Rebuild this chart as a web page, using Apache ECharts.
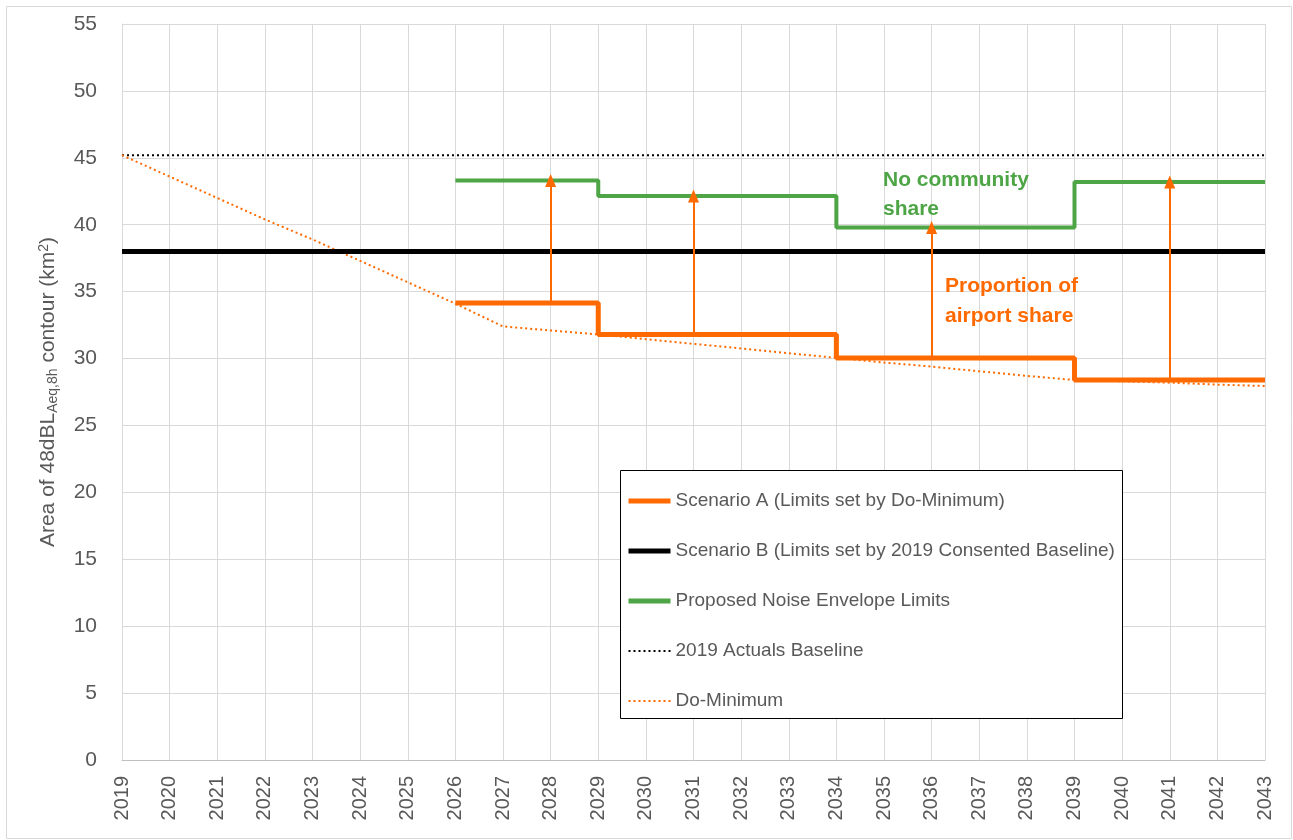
<!DOCTYPE html>
<html>
<head>
<meta charset="utf-8">
<script src="https://cdn.jsdelivr.net/npm/echarts@6/dist/echarts.min.js"></script>
<style>
  html, body { margin: 0; padding: 0; background: #fff; }
  #chart { width: 1293px; height: 840px; }
</style>
</head>
<body>
<div id="chart"></div>
<script>
// 年份
var years = ['2019','2020','2021','2022','2023','2024','2025','2026','2027','2028','2029','2030',
  '2031','2032','2033','2034','2035','2036','2037','2038','2039','2040','2041','2042','2043'];

// Scenario A (Do-Minimum 限值)
var scenarioA = [null,null,null,null,null,null,null,34.15,34.15,34.15,31.8,31.8,
  31.8,31.8,31.8,30.05,30.05,30.05,30.05,30.05,28.4,28.4,28.4,28.4,28.4];
// Scenario B (2019 Consented Baseline)
var scenarioB = [38,38,38,38,38,38,38,38,38,38,38,38,38,38,38,38,38,38,38,38,38,38,38,38,38];
// 建议噪声限值
var envelope = [null,null,null,null,null,null,null,43.3,43.3,43.3,42.15,42.15,
  42.15,42.15,42.15,39.8,39.8,39.8,39.8,39.8,43.2,43.2,43.2,43.2,43.2];
// 2019 实际基线
var actuals = [45.2,45.2,45.2,45.2,45.2,45.2,45.2,45.2,45.2,45.2,45.2,45.2,45.2,45.2,45.2,
  45.2,45.2,45.2,45.2,45.2,45.2,45.2,45.2,45.2,45.2];
// Do-Minimum
var doMinimum = [45.2,43.6,42.0,40.4,38.9,37.3,35.7,34.1,32.4,32.1,31.8,31.45,
  31.1,30.75,30.4,30.05,29.7,29.4,29.05,28.7,28.4,28.3,28.2,28.05,27.95];

// 箭头 [年份, 起点, 终点]
var arrows = [['2028',34.15,43.3],['2031',31.8,42.15],['2036',30.05,39.8],['2041',28.4,43.2]];

var yTicks = { min: 0, max: 55, interval: 5 };

var orange = '#ff6a00';
var green = '#4ea546';
var font = 'Liberation Sans';

var chart = echarts.init(document.getElementById('chart'));

var option = {
  animation: false,
  textStyle: { fontFamily: font },
  grid: { left: 122, right: 28, top: 24, bottom: 80 },
  legend: {
    orient: 'vertical',
    left: 621,
    top: 484,
    z: 10,
    itemWidth: 42,
    itemHeight: 14,
    itemGap: 26,
    itemStyle: { opacity: 0 },
    textStyle: { fontSize: 19, color: '#595959', lineHeight: 24, fontFamily: font },
    data: [
      { name: 'Scenario A (Limits set by Do-Minimum)', lineStyle: { width: 5 } },
      { name: 'Scenario B (Limits set by 2019 Consented Baseline)', lineStyle: { width: 5 } },
      { name: 'Proposed Noise Envelope Limits', lineStyle: { width: 5 } },
      { name: '2019 Actuals Baseline', lineStyle: { width: 2 } },
      { name: 'Do-Minimum', lineStyle: { width: 2 } }
    ]
  },
  xAxis: {
    type: 'category',
    data: years,
    boundaryGap: false,
    axisLine: { lineStyle: { color: '#bfbfbf' } },
    axisTick: { show: false },
    axisLabel: { rotate: 90, fontSize: 20, color: '#595959', margin: 16, interval: 0 },
    splitLine: { show: true, lineStyle: { color: '#d9d9d9', width: 1 } }
  },
  yAxis: {
    type: 'value',
    min: yTicks.min,
    max: yTicks.max,
    interval: yTicks.interval,
    axisLine: { show: true, lineStyle: { color: '#d9d9d9' } },
    axisLabel: { fontSize: 21, color: '#595959', margin: 25 },
    splitLine: { lineStyle: { color: '#d9d9d9', width: 1 } },
    name: 'Area of 48dBL{sub|Aeq,8h} contour (km{sup|2})',
    nameLocation: 'middle',
    nameGap: 62,
    nameTextStyle: {
      fontSize: 21, color: '#595959',
      rich: {
        sub: { fontSize: 14, color: '#595959', verticalAlign: 'bottom', padding: [9, 0, 0, 0] },
        sup: { fontSize: 14, color: '#595959', verticalAlign: 'top', padding: [0, 0, 9, 0] }
      }
    }
  },
  series: [
    {
      name: '2019 Actuals Baseline',
      type: 'line',
      data: actuals,
      symbol: 'none',
      lineStyle: { color: '#000', width: 2, type: [2, 3] },
      itemStyle: { color: '#000' }
    },
    {
      name: 'Do-Minimum',
      type: 'line',
      data: doMinimum,
      symbol: 'none',
      lineStyle: { color: orange, width: 2, type: [2, 3] },
      itemStyle: { color: orange }
    },
    {
      name: 'Scenario B (Limits set by 2019 Consented Baseline)',
      type: 'line',
      data: scenarioB,
      symbol: 'none',
      lineStyle: { color: '#000', width: 5 },
      itemStyle: { color: '#000' }
    },
    {
      name: 'Proposed Noise Envelope Limits',
      type: 'line',
      data: envelope,
      step: 'end',
      symbol: 'none',
      lineStyle: { color: green, width: 4 },
      itemStyle: { color: green }
    },
    {
      name: 'Scenario A (Limits set by Do-Minimum)',
      type: 'line',
      data: scenarioA,
      step: 'end',
      symbol: 'none',
      lineStyle: { color: orange, width: 5 },
      itemStyle: { color: orange },
      markLine: {
        silent: true,
        symbol: ['none', 'triangle'],
        symbolSize: [11, 13],
        label: { show: false },
        lineStyle: { color: orange, width: 2, type: 'solid' },
        data: arrows.map(function (a) {
          return [{ coord: [a[0], a[1]] }, { coord: [a[0], a[2]] }];
        })
      }
    }
  ],
  graphic: [
    {
      type: 'rect', left: 4, top: 4, silent: true,
      shape: { width: 1285, height: 832 },
      style: { fill: 'none', stroke: '#d9d9d9', lineWidth: 1 }
    },
    {
      type: 'rect', left: 620, top: 470, silent: true, z: 3,
      shape: { width: 502, height: 248 },
      style: { fill: '#fff', stroke: '#000', lineWidth: 1 }
    },
    {
      type: 'text', left: 883, top: 166, z: 100,
      style: { text: 'No community\nshare', fill: green, font: 'bold 21px ' + font, lineHeight: 29 }
    },
    {
      type: 'text', left: 945, top: 271, z: 100,
      style: { text: 'Proportion of\nairport share', fill: orange, font: 'bold 21px ' + font, lineHeight: 30 }
    }
  ]
};

chart.setOption(option);
window.addEventListener('resize', chart.resize);
</script>
</body>
</html>
